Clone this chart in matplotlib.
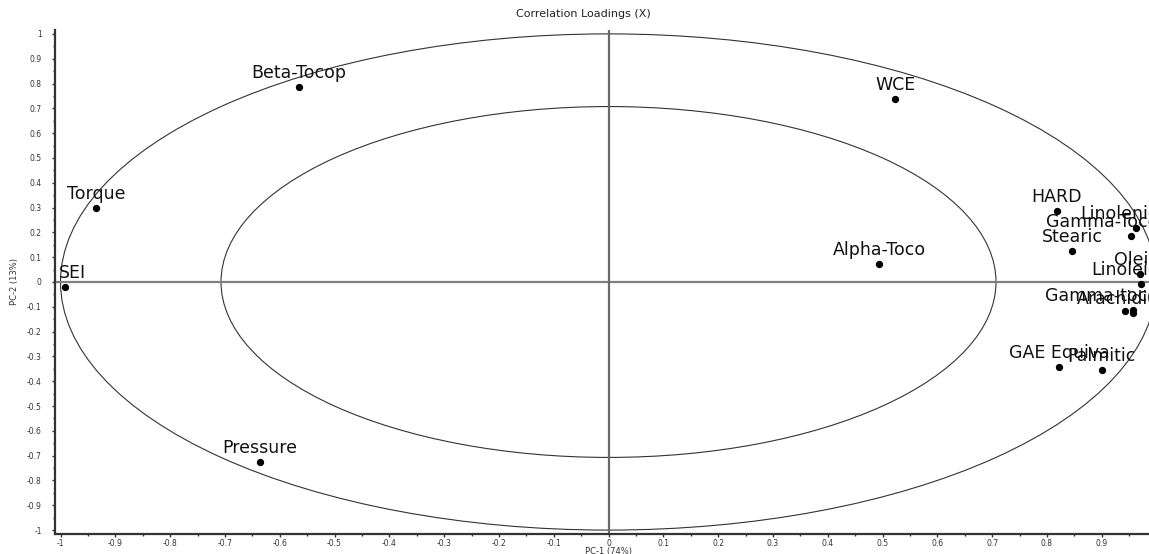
import numpy as np
import matplotlib.pyplot as plt
from matplotlib.patches import Ellipse
from matplotlib.ticker import MultipleLocator, FuncFormatter

# PCA correlation loadings on the first two components
variables = ["Beta-Tocop", "WCE", "Torque", "SEI", "Pressure", "Alpha-Toco",
             "HARD", "Linolenic", "Gamma-Toco", "Stearic", "Oleic", "Linoleic",
             "Gamma-toco", "Arachidic", "", "GAE Equiva", "Palmitic"]
pc1 = [-0.565, 0.523, -0.935, -0.992, -0.636, 0.494,
       0.818, 0.963, 0.953, 0.846, 0.969, 0.971,
       0.943, 0.957, 0.957, 0.822, 0.900]
pc2 = [0.787, 0.738, 0.300, -0.022, -0.726, 0.074,
       0.288, 0.219, 0.187, 0.123, 0.034, -0.010,
       -0.115, -0.127, -0.111, -0.344, -0.356]

plt.rcParams["font.family"] = ["DejaVu Sans"]
dpi = 100
fig = plt.figure(figsize=(11.49, 5.54), dpi=dpi)
ax = fig.add_axes([0.0479, 0.036, 0.9634, 0.910])

ax.set_xlim(-1.01, 1.01)
ax.set_ylim(-1.016, 1.016)

# 100% and 50% explained variance circles
ax.add_patch(Ellipse((0, 0), 2, 2, fill=False, ec="#333333", lw=0.8))
ax.add_patch(Ellipse((0, 0), 2 * np.sqrt(0.5), 2 * np.sqrt(0.5), fill=False, ec="#333333", lw=0.8))
ax.axhline(0, color="#808080", lw=1.6, zorder=1)
ax.axvline(0, color="#6a6a6a", lw=1.6, zorder=1)

ax.scatter(pc1, pc2, s=18, color="black", zorder=3)

labels = []
for name, x, y in zip(variables, pc1, pc2):
    if name:
        t = ax.annotate(name, (x, y), xytext=(0, 6.5), textcoords="offset points",
                        ha="center", va="baseline", fontsize=12.5, color="#111111",
                        annotation_clip=False)
        labels.append(t)

for s in ["top", "right"]:
    ax.spines[s].set_visible(False)
for s in ["left", "bottom"]:
    ax.spines[s].set_linewidth(1.6)
    ax.spines[s].set_color("#333333")

fmt = FuncFormatter(lambda v, p: "%g" % round(v, 2) if abs(v) > 1e-9 else "0")
for axis in [ax.xaxis, ax.yaxis]:
    axis.set_major_locator(MultipleLocator(0.1))
    axis.set_minor_locator(MultipleLocator(0.05))
    axis.set_major_formatter(fmt)
ax.tick_params(which="major", length=2.5, width=1, color="#333333",
               labelsize=5.5, labelcolor="#333333")
ax.tick_params(which="minor", length=1.5, width=1, color="#333333")
ax.tick_params(axis="x", pad=1)
ax.tick_params(axis="y", pad=7)

ax.set_xlabel("PC-1 (74%)", fontsize=6, color="#333333", labelpad=-1)
ax.set_ylabel("PC-2 (13%)", fontsize=6, color="#333333", labelpad=6)
fig.text(0.508, 0.975, "Correlation Loadings (X)", fontsize=8, color="#222222",
         ha="center", va="center")

# keep the labels inside the plot frame
fig.canvas.draw()
renderer = fig.canvas.get_renderer()
frame = ax.get_window_extent(renderer)
margin = 4
for t in labels:
    bb = t.get_window_extent(renderer)
    shift = 0
    if bb.x1 > frame.x1 - margin:
        shift = (frame.x1 - margin) - bb.x1
    elif bb.x0 < frame.x0 + margin:
        shift = (frame.x0 + margin) - bb.x0
    if shift:
        t.xyann = (shift * 72 / dpi, 6.5)

fig.savefig("out.png", dpi=dpi)
